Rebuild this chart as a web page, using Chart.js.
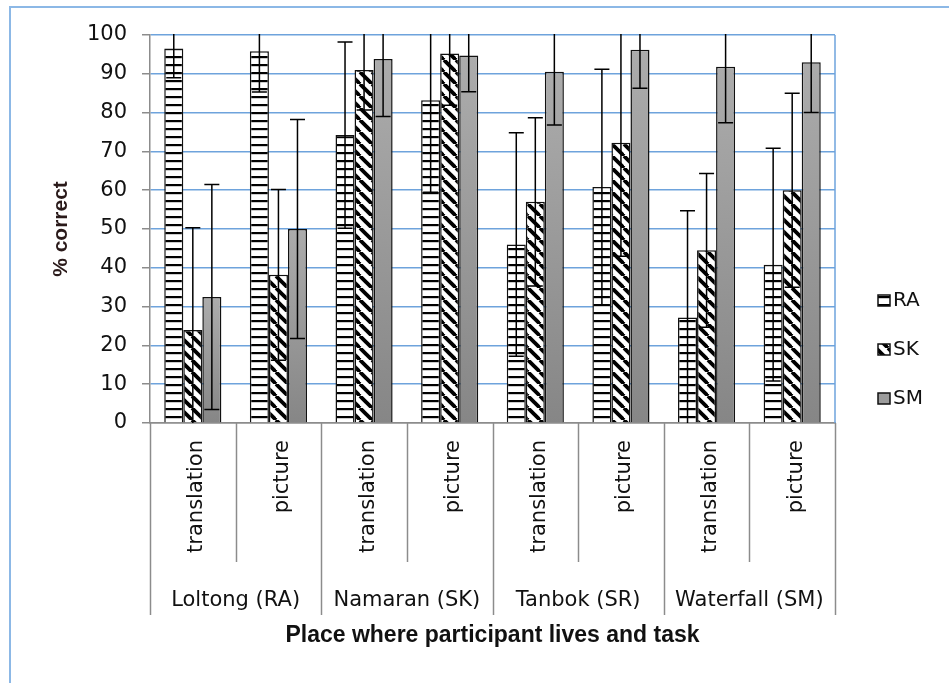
<!DOCTYPE html>
<html>
<head>
<meta charset="utf-8">
<script src="https://cdn.jsdelivr.net/npm/chart.js@4.4.1/dist/chart.umd.min.js"></script>
<style>
  html, body { margin: 0; background: #fff; }
  canvas { display: block; }
</style>
</head>
<body>
<canvas id="chart" width="949" height="683"></canvas>
<script>
const tasks = ['translation', 'picture', 'translation', 'picture', 'translation', 'picture', 'translation', 'picture'];
const places = ['Loltong (RA)', 'Namaran (SK)', 'Tanbok (SR)', 'Waterfall (SM)'];
const seriesNames = ['RA', 'SK', 'SM'];

const raValues = [96.5, 95.8, 74.2, 83.2, 46.0, 60.8, 27.2, 40.8];
const skValues = [24.0, 38.2, 91.0, 95.2, 57.0, 72.2, 44.5, 60.0];
const smValues = [32.5, 50.0, 93.8, 94.7, 90.5, 96.2, 91.8, 93.0];

// +/- error (symmetric)
const raErrors = [7.5, 10.5, 24.0, 23.7, 28.8, 30.4, 27.5, 30.0];
const skErrors = [26.3, 22.0, 10.3, 13.3, 21.7, 29.2, 19.8, 25.0];
const smErrors = [29.0, 28.2, 14.8, 9.3, 13.7, 9.9, 14.4, 13.0];

const yMin = 0, yMax = 100, yStep = 10;

const blue = '#6ea3dc';
const axisGrey = '#8c8c8c';

// fill patterns
const makePattern = (kind) => {
  const c = document.createElement('canvas');
  const g = c.getContext('2d');
  if (kind === 'horiz') {
    c.width = 8; c.height = 8;
    g.fillStyle = '#fff'; g.fillRect(0, 0, 8, 8);
    g.fillStyle = '#000'; g.fillRect(0, 0, 8, 2.2);
  } else {
    const s = 12;
    c.width = s; c.height = s;
    g.fillStyle = '#fff'; g.fillRect(0, 0, s, s);
    g.strokeStyle = '#000'; g.lineWidth = 3.8;
    [-s, 0, s].forEach(o => {
      g.beginPath(); g.moveTo(o, 0); g.lineTo(o + s, s); g.stroke();
    });
  }
  return g.createPattern(c, 'repeat');
};
const raFill = makePattern('horiz');
const skFill = makePattern('diag');

const smFill = (ctx) => {
  const chart = ctx.chart;
  const area = chart.chartArea;
  if (!area || ctx.raw == null) return '#9a9a9a';
  const top = chart.scales.y.getPixelForValue(ctx.raw);
  const grad = chart.ctx.createLinearGradient(0, top, 0, area.bottom);
  grad.addColorStop(0, '#acacac');
  grad.addColorStop(1, '#868686');
  return grad;
};

const errorSets = [raErrors, skErrors, smErrors];

const errorBars = {
  id: 'errorBars',
  afterDatasetsDraw(chart) {
    const { ctx, chartArea, scales: { y } } = chart;
    ctx.save();
    ctx.beginPath();
    ctx.rect(chartArea.left, chartArea.top - 1, chartArea.right - chartArea.left, chartArea.bottom - chartArea.top + 1);
    ctx.clip();
    ctx.strokeStyle = '#000';
    ctx.lineWidth = 1.5;
    chart.data.datasets.forEach((ds, di) => {
      const meta = chart.getDatasetMeta(di);
      meta.data.forEach((bar, i) => {
        const v = ds.data[i], e = errorSets[di][i];
        const x = bar.x;
        const yHi = y.getPixelForValue(v + e);
        const yLo = y.getPixelForValue(v - e);
        ctx.beginPath();
        ctx.moveTo(x, yHi); ctx.lineTo(x, yLo);
        ctx.moveTo(x - 7.5, yHi); ctx.lineTo(x + 7.5, yHi);
        ctx.moveTo(x - 7.5, yLo); ctx.lineTo(x + 7.5, yLo);
        ctx.stroke();
      });
    });
    ctx.restore();
  }
};

const decorations = {
  id: 'decorations',
  beforeDraw(chart) {
    const { ctx } = chart;
    ctx.save();
    ctx.strokeStyle = '#8cb8e6';
    ctx.lineWidth = 2;
    ctx.strokeRect(10, 7, 2000, 2000);
    ctx.restore();
  },
  afterDraw(chart) {
    const { ctx, chartArea, scales: { x } } = chart;
    const bottom = chartArea.bottom;
    const catW = (chartArea.right - chartArea.left) / tasks.length;
    ctx.save();

    // right border of plot area
    ctx.strokeStyle = blue;
    ctx.lineWidth = 1.5;
    ctx.beginPath();
    ctx.moveTo(chartArea.right, chartArea.top);
    ctx.lineTo(chartArea.right, bottom);
    ctx.stroke();

    // category separators
    ctx.strokeStyle = axisGrey;
    ctx.lineWidth = 1.5;
    for (let i = 0; i <= tasks.length; i++) {
      const px = Math.round(chartArea.left + i * catW) + 0.5;
      const len = i % 2 === 0 ? 192 : 139;
      ctx.beginPath();
      ctx.moveTo(px, bottom);
      ctx.lineTo(px, bottom + len);
      ctx.stroke();
    }

    // task labels (rotated)
    ctx.fillStyle = '#111';
    ctx.font = '21px "DejaVu Sans"';
    ctx.textAlign = 'right';
    ctx.textBaseline = 'middle';
    tasks.forEach((t, i) => {
      const cx = x.getPixelForValue(i);
      ctx.save();
      ctx.translate(cx + 4, bottom + 17);
      ctx.rotate(-Math.PI / 2);
      ctx.fillText(t, 0, 0);
      ctx.restore();
    });

    // place labels
    ctx.font = '21px "DejaVu Sans"';
    ctx.textAlign = 'center';
    places.forEach((p, g) => {
      const cx = (x.getPixelForValue(g * 2) + x.getPixelForValue(g * 2 + 1)) / 2;
      ctx.fillText(p, cx, bottom + 178);
    });

    // legend
    const fills = [raFill, skFill, '#9c9c9c'];
    ctx.font = '20px "DejaVu Sans"';
    ctx.textAlign = 'left';
    seriesNames.forEach((name, i) => {
      const ly = 300 + i * 49;
      ctx.fillStyle = fills[i];
      ctx.fillRect(878, ly - 5, 12, 11);
      ctx.strokeStyle = '#111';
      ctx.lineWidth = 1.5;
      ctx.strokeRect(878, ly - 5, 12, 11);
      ctx.fillStyle = '#111';
      ctx.fillText(name, 893, ly + 1);
    });
    ctx.restore();
  }
};

new Chart(document.getElementById('chart'), {
  type: 'bar',
  data: {
    labels: tasks,
    datasets: [
      { label: seriesNames[0], data: raValues, backgroundColor: raFill },
      { label: seriesNames[1], data: skValues, backgroundColor: skFill },
      { label: seriesNames[2], data: smValues, backgroundColor: smFill }
    ]
  },
  options: {
    responsive: false,
    animation: false,
    devicePixelRatio: 1,
    layout: { padding: { left: 10, top: 35, right: 114, bottom: 0 } },
    datasets: {
      bar: {
        categoryPercentage: 0.667,
        barPercentage: 1,
        borderColor: '#111',
        borderWidth: 1.5
      }
    },
    plugins: {
      legend: { display: false },
      tooltip: { enabled: false }
    },
    scales: {
      x: {
        grid: { display: false },
        ticks: { display: false },
        border: { color: axisGrey, width: 1.5 },
        afterFit: s => { s.height = 260; },
        title: {
          display: true,
          text: 'Place where participant lives and task',
          color: '#111',
          font: { family: '"Liberation Sans"', size: 23, weight: 'bold' },
          padding: { bottom: 34 }
        }
      },
      y: {
        min: yMin,
        max: yMax,
        ticks: {
          stepSize: yStep,
          color: '#111',
          padding: 15,
          font: { family: '"DejaVu Sans"', size: 21 }
        },
        grid: {
          color: c => (c.tick && c.tick.value === 0 ? axisGrey : blue),
          lineWidth: 1.5,
          tickColor: axisGrey,
          tickLength: 8
        },
        border: { color: axisGrey, width: 1.5 },
        afterFit: s => { s.width = 140; },
        title: {
          display: true,
          text: '% correct',
          color: '#2a1a1a',
          font: { family: '"Liberation Sans"', size: 21, weight: 'bold' },
          padding: { top: 39 }
        }
      }
    }
  },
  plugins: [errorBars, decorations]
});
</script>
</body>
</html>
